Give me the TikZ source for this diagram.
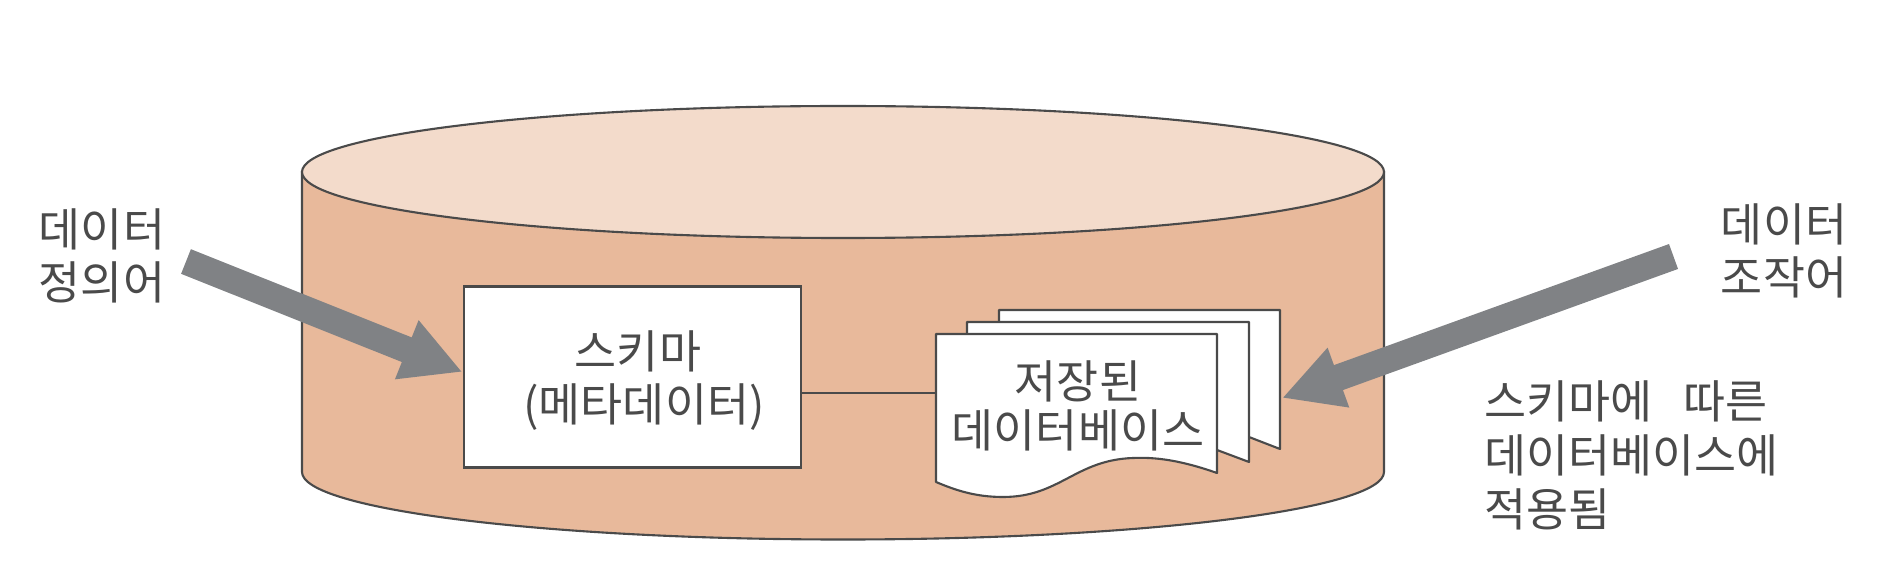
\documentclass[tikz,border=0pt]{standalone}
\usepackage{fontspec}
\setmainfont{Noto Sans CJK KR}
\usetikzlibrary{arrows.meta,shapes.geometric}
\definecolor{drumside}{HTML}{E8B99B}
\definecolor{drumlid}{HTML}{F3DBCB}
\definecolor{inkgray}{HTML}{4A4A4A}
\definecolor{arrowgray}{HTML}{808285}
\begin{document}
\begin{tikzpicture}[outline/.style={draw=inkgray,line width=0.6pt},
  page/.style={outline,fill=white,line join=round},
  caption/.style={font=\fontsize{13}{15.3}\selectfont,text=inkgray,inner sep=0pt},
  blockarrow/.style={draw=arrowgray,line width=0.265cm}]

\useasboundingbox (0,0) rectangle (18.88,5.8);

\draw[outline,fill=drumside] (3.02,4.08) -- (3.02,1.08) arc[start angle=180,end angle=360,x radius=5.41,y radius=0.675] -- (13.84,4.08) -- cycle;
\node[outline,ellipse,fill=drumlid,inner sep=0pt,minimum width=10.82cm,minimum height=1.32cm] (lid) at (8.43,4.08) {};

\node[outline,fill=white,minimum width=3.37cm,minimum height=1.81cm] (schema) at (6.325,2.03) {};
\node[caption,align=center] (schemalabel) at (6.44,1.995) {\hspace*{-0.12cm}스키마\\(메타데이터)};

\draw[page] (9.99,2.58) -- (9.99,2.70) -- (12.80,2.70) -- (12.80,1.31) -- (12.49,1.43);
\draw[page] (9.67,2.46) -- (9.67,2.58) -- (12.49,2.58) -- (12.49,1.18) -- (12.17,1.30);
\draw[page] (9.36,2.46) -- (12.17,2.46) -- (12.17,1.07)
  .. controls (11.8,1.2) and (11.55,1.23) .. (11.33,1.22)
  .. controls (10.75,1.2) and (10.6,0.83) .. (10.03,0.83)
  .. controls (9.75,0.83) and (9.55,0.9) .. (9.36,0.98) -- cycle;
\node[caption,align=center] (store) at (10.78,1.74) {저장된\\[-1.3pt]데이터베이스};

\coordinate (pageedge) at (9.36,1.87);
\draw[outline] (schema.east |- pageedge) -- (pageedge);

\node[caption,align=center] (ddl) at (1.02,3.24) {데이터\\정의어};
\node[caption,align=center] (dml) at (17.84,3.29) {데이터\\조작어};
\node[caption,align=left,anchor=west] (applied) at (14.84,1.245) {스키마에\hspace{0.2cm} 따른\\데이터베이스에\\적용됨};

\coordinate (ddltail) at (1.86,3.185);
\coordinate (ddltip) at (4.625,2.08);
\coordinate (dmltail) at (16.735,3.235);
\coordinate (dmltip) at (12.82,1.82);
\draw[blockarrow,-{Triangle[length=0.6cm,width=0.59cm]}] (ddltail) -- (ddltip);
\draw[blockarrow,-{Triangle[length=0.6cm,width=0.59cm]}] (dmltail) -- (dmltip);

\end{tikzpicture}
\end{document}
